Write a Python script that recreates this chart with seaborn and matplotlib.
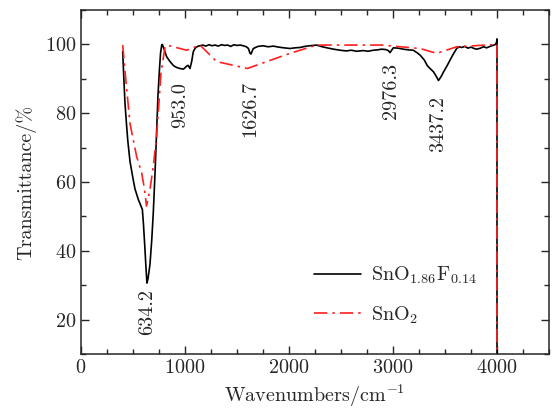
import matplotlib
matplotlib.use("Agg")
import matplotlib.pyplot as plt
import seaborn as sns
import pandas as pd
from matplotlib.ticker import MultipleLocator

# SnO1.86F0.14 spectrum (black)
wn_f = [401, 412, 423, 437, 450, 471, 500, 519, 550, 577, 590, 600, 612, 625, 634, 645, 663,
        680, 695, 711, 725, 740, 753, 765, 776, 782, 800, 824, 856, 890, 919, 950, 984, 1000,
        1016, 1030, 1048, 1064, 1080, 1100, 1128, 1144, 1170, 1200, 1230, 1260, 1290, 1320,
        1350, 1380, 1410, 1440, 1470, 1500, 1530, 1560, 1590, 1610, 1625, 1635, 1645, 1657,
        1700, 1750, 1800, 1850, 1900, 1950, 2010, 2060, 2106, 2150, 2200, 2266, 2320, 2380,
        2430, 2490, 2550, 2600, 2650, 2714, 2760, 2810, 2850, 2890, 2930, 2955, 2971, 2985,
        3003, 3050, 3100, 3150, 3195, 3230, 3260, 3300, 3330, 3356, 3390, 3420, 3437, 3460,
        3486, 3520, 3548, 3580, 3612, 3635, 3660, 3690, 3720, 3750, 3780, 3804, 3840, 3870,
        3900, 3940, 3981, 3995, 4000, 4000]
t_f = [97.9, 90.0, 82.9, 77.0, 72.0, 66.0, 61.0, 58.0, 55.0, 53.0, 52.0, 48.0, 42.0, 35.0,
       30.6, 32.0, 36.0, 43.0, 51.0, 62.0, 73.0, 85.0, 92.0, 97.5, 99.8, 100.0, 98.5, 96.4,
       95.0, 93.8, 93.3, 93.0, 92.8, 93.2, 93.7, 93.9, 93.0, 95.0, 97.9, 99.0, 99.5, 99.6,
       99.8, 99.5, 99.9, 99.6, 99.8, 99.5, 99.9, 99.7, 99.8, 99.4, 99.9, 99.7, 99.8, 99.6,
       99.3, 98.8, 97.4, 97.2, 98.0, 98.8, 99.4, 99.6, 99.3, 99.5, 99.2, 99.0, 98.8, 99.0,
       99.1, 99.4, 99.6, 99.8, 99.3, 98.9, 98.6, 98.3, 98.1, 98.3, 98.0, 98.2, 98.0, 98.3,
       98.4, 98.6, 98.5, 98.2, 97.6, 98.2, 99.0, 98.9, 98.6, 98.4, 98.3, 97.6, 96.9, 95.5,
       93.8, 93.0, 92.0, 90.5, 89.5, 90.5, 92.0, 93.8, 95.4, 97.2, 98.8, 99.3, 99.1, 99.4,
       98.9, 99.2, 98.8, 98.6, 98.9, 99.3, 99.0, 99.5, 99.9, 100.5, 101.6, 0.0]

# SnO2 spectrum (red)
wn_o = [401, 430, 471, 535, 583, 610, 630, 663, 695, 727, 769, 808, 824, 1016, 1144, 1304,
        1600, 2010, 2266, 2900, 3000, 3260, 3420, 3612, 4000, 4000]
t_o = [99.8, 90.0, 77.0, 67.4, 62.7, 58.0, 53.0, 57.8, 64.5, 73.2, 91.6, 99.3, 99.8, 98.3,
       99.8, 95.0, 93.0, 97.4, 99.8, 99.8, 99.5, 98.8, 97.4, 99.3, 100.0, 0.0]

peak_labels = ["634.2", "953.0", "1626.7", "2976.3", "3437.2"]
peak_x = [634.2, 953.0, 1626.7, 2976.3, 3437.2]
peak_y = [29.0, 89.0, 89.5, 94.5, 85.0]

series_names = [r"SnO$_{1.86}$F$_{0.14}$", r"SnO$_{2}$"]

sns.set_style("ticks")
plt.rcParams["font.family"] = ["cmr10", "DejaVu Serif"]
plt.rcParams["mathtext.fontset"] = "cm"
plt.rcParams["axes.formatter.use_mathtext"] = True
plt.rcParams["axes.unicode_minus"] = False

fig, ax = plt.subplots(figsize=(5.54, 4.09), dpi=100)
fig.subplots_adjust(left=0.1462, right=0.991, top=0.9756, bottom=0.1345)

df_f = pd.DataFrame({"x": wn_f, "y": t_f})
df_o = pd.DataFrame({"x": wn_o, "y": t_o})

sns.lineplot(data=df_f, x="x", y="y", ax=ax, sort=False, estimator=None,
             color="black", linewidth=1.2, label=series_names[0])
sns.lineplot(data=df_o, x="x", y="y", ax=ax, sort=False, estimator=None,
             color="#ff1f1f", linewidth=1.2, linestyle=(0, (8, 3, 1.5, 3)),
             label=series_names[1])

fs = 14.5
for lab, x, y in zip(peak_labels, peak_x, peak_y):
    ax.text(x, y, lab, rotation=90, ha="center", va="top", fontsize=fs)

ax.set_xlim(0, 4500)
ax.set_ylim(10, 110)
ax.xaxis.set_major_locator(MultipleLocator(1000))
ax.xaxis.set_minor_locator(MultipleLocator(250))
ax.yaxis.set_major_locator(MultipleLocator(20))
ax.yaxis.set_minor_locator(MultipleLocator(10))
ax.set_yticks([20, 40, 60, 80, 100])
ax.tick_params(which="both", direction="in", top=True, right=True, labelsize=fs, width=1.0)
ax.tick_params(which="major", length=5.5)
ax.tick_params(which="minor", length=3.5)
for s in ax.spines.values():
    s.set_linewidth(1.1)
    s.set_visible(True)

ax.set_xlabel(r"Wavenumbers/cm$^{-1}$", fontsize=fs, labelpad=4)
ax.set_ylabel("Transmittance/%", fontsize=fs, labelpad=6)

ax.legend(loc="lower left", bbox_to_anchor=(0.46, 0.03), frameon=False, fontsize=fs,
          handlelength=2.3, handletextpad=0.5, labelspacing=0.9)

fig.savefig("out.png", dpi=100)
